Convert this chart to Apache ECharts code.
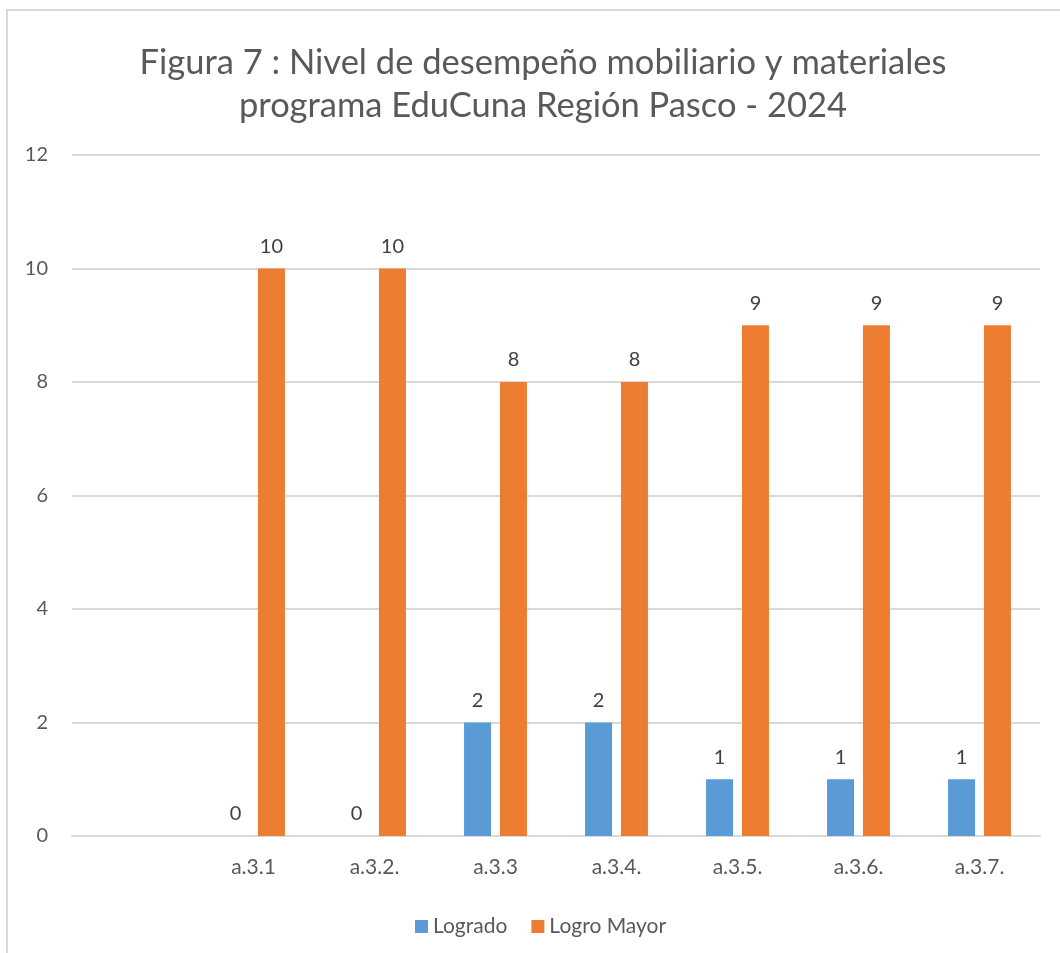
<!DOCTYPE html>
<html>

<head>
    <meta charset="UTF-8" />
    <title>Figura 7</title>
    <script src="https://cdn.jsdelivr.net/npm/echarts@6/dist/echarts.min.js"></script>
    <style>
        body { margin: 0; background: #fff; }
        #frame { position: absolute; left: 6px; top: 9px; width: 1100px; height: 1000px; border: 2px solid #d9d9d9; }
        #chart { position: absolute; left: 0; top: 0; width: 1060px; height: 953px; }
    </style>
</head>

<body>
    <div id="frame"></div>
    <div id="chart"></div>

    <script type="text/javascript">
        // datos (la primera categoria esta vacia)
        let categories = ['', 'a.3.1', 'a.3.2.', 'a.3.3', 'a.3.4.', 'a.3.5.', 'a.3.6.', 'a.3.7.'];
        let logrado = [null, 0, 0, 2, 2, 1, 1, 1];
        let logroMayor = [null, 10, 10, 8, 8, 9, 9, 9];
        let yTicks = [0, 2, 4, 6, 8, 10, 12];

        let font = 'Lato, "Open Sans", sans-serif';
        let labelStyle = {
            show: true,
            position: 'top',
            distance: 12,
            color: '#404040',
            fontSize: 20,
            fontFamily: font
        };

        let chart = echarts.init(document.getElementById('chart'));
        let option = {
            animation: false,
            title: {
                text: 'Figura 7 : Nivel de desempeño mobiliario y materiales\nprograma EduCuna Región Pasco - 2024',
                left: 538,
                top: 36,
                textAlign: 'center',
                textStyle: {
                    color: '#595959',
                    fontSize: 34.5,
                    fontWeight: 'normal',
                    fontFamily: font,
                    lineHeight: 43
                }
            },
            legend: {
                data: ['Logrado', 'Logro Mayor'],
                left: 410,
                top: 911,
                itemWidth: 13,
                itemHeight: 13,
                itemGap: 24,
                icon: 'rect',
                textStyle: { color: '#595959', fontSize: 21, fontFamily: font }
            },
            grid: { left: 72, right: 20, top: 155, bottom: 117, containLabel: false },
            xAxis: {
                type: 'category',
                data: categories,
                axisLine: { lineStyle: { color: '#d9d9d9', width: 2 } },
                axisTick: { show: false },
                axisLabel: { color: '#595959', fontSize: 21, fontFamily: font, margin: 21 }
            },
            yAxis: {
                type: 'value',
                min: yTicks[0],
                max: yTicks[yTicks.length - 1],
                interval: 2,
                axisLine: { show: false },
                axisTick: { show: false },
                axisLabel: { color: '#595959', fontSize: 20, fontFamily: font, margin: 24 },
                splitLine: { lineStyle: { color: '#d9d9d9', width: 2 } }
            },
            series: [
                {
                    name: 'Logrado',
                    type: 'bar',
                    data: logrado,
                    barWidth: 27,
                    barGap: '33%',
                    itemStyle: { color: '#5b9bd5' },
                    label: labelStyle
                },
                {
                    name: 'Logro Mayor',
                    type: 'bar',
                    data: logroMayor,
                    barWidth: 27,
                    itemStyle: { color: '#ed7d31' },
                    label: labelStyle
                }
            ]
        };
        chart.setOption(option);
    </script>
</body>

</html>
